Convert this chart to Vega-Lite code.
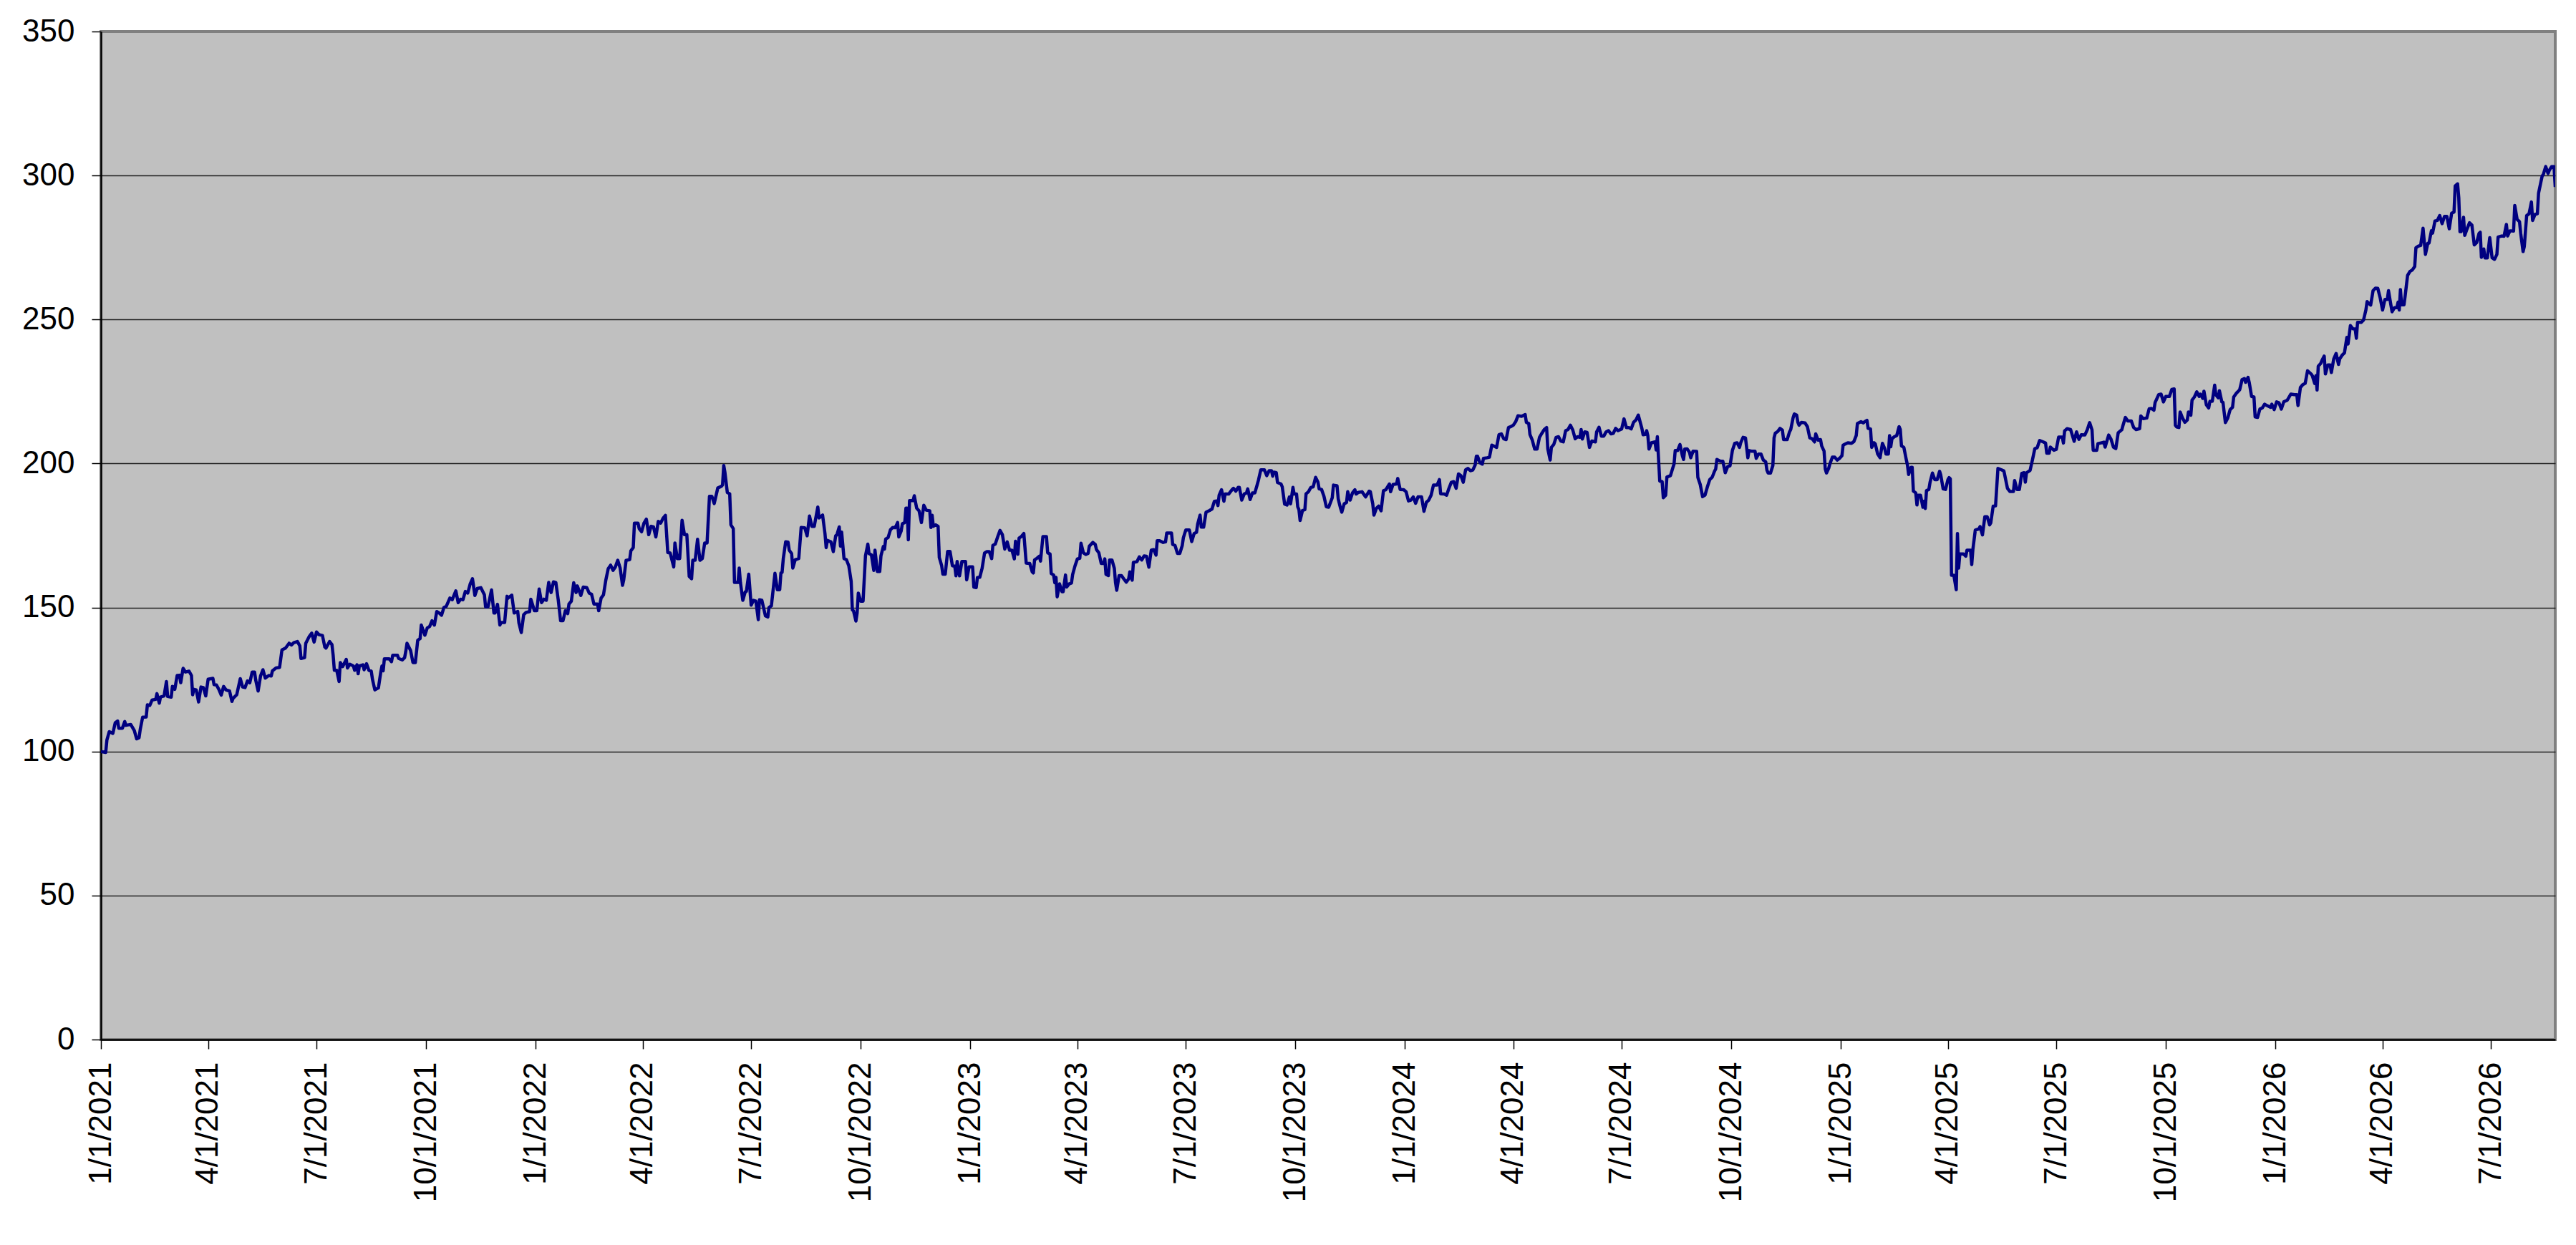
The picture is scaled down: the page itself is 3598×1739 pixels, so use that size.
{
  "$schema": "https://vega.github.io/schema/vega-lite/v6.json",
  "description": "Daily index level, 1/1/2021 to 8/2026, line on grey plot area.",
  "autosize": {"type": "none"},
  "width": 3428,
  "height": 1408,
  "padding": {"left": 141, "top": 44, "right": 29, "bottom": 287},
  "background": "#ffffff",
  "config": {
    "view": {"fill": "#C0C0C0", "stroke": "#808080", "strokeWidth": 4},
    "font": "Liberation Sans"
  },
  "data": {
    "values": [
      {"date":"2021-01-01","value":100.0},{"date":"2021-01-05","value":99.7},{"date":"2021-01-06","value":104.0},{"date":"2021-01-08","value":106.9},{"date":"2021-01-11","value":106.3},{"date":"2021-01-13","value":110.0},{"date":"2021-01-15","value":110.6},{"date":"2021-01-16","value":108.1},{"date":"2021-01-19","value":108.1},{"date":"2021-01-21","value":110.4},{"date":"2021-01-22","value":109.1},{"date":"2021-01-26","value":109.4},{"date":"2021-01-29","value":107.3},{"date":"2021-01-31","value":104.4},
      {"date":"2021-02-02","value":104.8},{"date":"2021-02-03","value":107.7},{"date":"2021-02-05","value":111.9},{"date":"2021-02-08","value":112.0},{"date":"2021-02-09","value":116.2},{"date":"2021-02-11","value":116.0},{"date":"2021-02-13","value":117.9},{"date":"2021-02-16","value":118.1},{"date":"2021-02-17","value":120.1},{"date":"2021-02-19","value":116.8},{"date":"2021-02-20","value":118.9},{"date":"2021-02-23","value":119.3},{"date":"2021-02-25","value":124.3},{"date":"2021-02-26","value":119.1},
      {"date":"2021-03-01","value":118.9},{"date":"2021-03-02","value":122.6},{"date":"2021-03-04","value":121.6},{"date":"2021-03-06","value":126.4},{"date":"2021-03-08","value":126.5},{"date":"2021-03-09","value":123.9},{"date":"2021-03-11","value":128.9},{"date":"2021-03-13","value":127.6},{"date":"2021-03-16","value":127.9},{"date":"2021-03-18","value":126.4},{"date":"2021-03-19","value":119.7},{"date":"2021-03-20","value":121.6},{"date":"2021-03-22","value":121.4},{"date":"2021-03-24","value":117.2},{"date":"2021-03-26","value":122.4},{"date":"2021-03-28","value":122.2},{"date":"2021-03-30","value":119.3},
      {"date":"2021-04-01","value":125.1},{"date":"2021-04-05","value":125.4},{"date":"2021-04-06","value":123.2},{"date":"2021-04-08","value":123.1},{"date":"2021-04-10","value":121.6},{"date":"2021-04-12","value":119.6},{"date":"2021-04-14","value":122.6},{"date":"2021-04-16","value":121.4},{"date":"2021-04-19","value":121.0},{"date":"2021-04-21","value":117.4},{"date":"2021-04-22","value":118.5},{"date":"2021-04-25","value":119.7},{"date":"2021-04-28","value":125.3},{"date":"2021-04-30","value":122.4},
      {"date":"2021-05-02","value":122.2},{"date":"2021-05-04","value":124.5},{"date":"2021-05-06","value":123.9},{"date":"2021-05-08","value":127.6},{"date":"2021-05-10","value":127.6},{"date":"2021-05-11","value":124.7},{"date":"2021-05-13","value":121.0},{"date":"2021-05-15","value":126.2},{"date":"2021-05-17","value":128.4},{"date":"2021-05-19","value":125.5},{"date":"2021-05-22","value":126.4},{"date":"2021-05-24","value":126.2},{"date":"2021-05-25","value":128.0},{"date":"2021-05-28","value":129.0},{"date":"2021-05-31","value":129.2},
      {"date":"2021-06-02","value":135.3},{"date":"2021-06-05","value":135.9},{"date":"2021-06-08","value":137.6},{"date":"2021-06-10","value":137.0},{"date":"2021-06-12","value":137.8},{"date":"2021-06-15","value":138.2},{"date":"2021-06-17","value":136.7},{"date":"2021-06-18","value":132.3},{"date":"2021-06-21","value":132.6},{"date":"2021-06-22","value":137.6},{"date":"2021-06-25","value":140.0},{"date":"2021-06-27","value":141.1},{"date":"2021-06-29","value":138.0},
      {"date":"2021-07-01","value":141.5},{"date":"2021-07-03","value":140.6},{"date":"2021-07-06","value":140.3},{"date":"2021-07-08","value":136.3},{"date":"2021-07-09","value":135.9},{"date":"2021-07-12","value":138.2},{"date":"2021-07-14","value":137.1},{"date":"2021-07-15","value":133.4},{"date":"2021-07-16","value":128.2},{"date":"2021-07-18","value":128.2},{"date":"2021-07-20","value":124.3},{"date":"2021-07-21","value":130.9},{"date":"2021-07-23","value":129.5},{"date":"2021-07-26","value":132.0},{"date":"2021-07-27","value":129.0},{"date":"2021-07-29","value":130.3},
      {"date":"2021-08-01","value":129.7},{"date":"2021-08-02","value":128.2},{"date":"2021-08-04","value":130.1},{"date":"2021-08-05","value":127.0},{"date":"2021-08-06","value":129.7},{"date":"2021-08-09","value":130.1},{"date":"2021-08-10","value":128.4},{"date":"2021-08-12","value":130.5},{"date":"2021-08-14","value":128.2},{"date":"2021-08-16","value":127.9},{"date":"2021-08-17","value":125.1},{"date":"2021-08-19","value":121.4},{"date":"2021-08-22","value":122.1},{"date":"2021-08-24","value":127.6},{"date":"2021-08-25","value":129.7},{"date":"2021-08-26","value":128.0},{"date":"2021-08-27","value":132.2},{"date":"2021-08-31","value":132.2},
      {"date":"2021-09-02","value":131.2},{"date":"2021-09-03","value":133.4},{"date":"2021-09-07","value":133.4},{"date":"2021-09-08","value":132.3},{"date":"2021-09-11","value":131.8},{"date":"2021-09-13","value":132.6},{"date":"2021-09-14","value":134.8},{"date":"2021-09-15","value":137.6},{"date":"2021-09-18","value":135.1},{"date":"2021-09-20","value":130.9},{"date":"2021-09-22","value":130.9},{"date":"2021-09-24","value":138.6},{"date":"2021-09-26","value":139.2},{"date":"2021-09-27","value":143.9},{"date":"2021-09-30","value":140.4},
      {"date":"2021-10-02","value":142.9},{"date":"2021-10-04","value":143.4},{"date":"2021-10-06","value":145.4},{"date":"2021-10-08","value":143.9},{"date":"2021-10-10","value":148.6},{"date":"2021-10-12","value":148.1},{"date":"2021-10-14","value":147.3},{"date":"2021-10-16","value":150.0},{"date":"2021-10-18","value":150.4},{"date":"2021-10-21","value":153.3},{"date":"2021-10-23","value":152.7},{"date":"2021-10-26","value":155.8},{"date":"2021-10-28","value":151.7},{"date":"2021-10-30","value":152.9},
      {"date":"2021-11-01","value":152.7},{"date":"2021-11-03","value":155.6},{"date":"2021-11-05","value":155.0},{"date":"2021-11-07","value":158.1},{"date":"2021-11-09","value":160.0},{"date":"2021-11-11","value":154.2},{"date":"2021-11-13","value":156.6},{"date":"2021-11-16","value":156.9},{"date":"2021-11-19","value":154.4},{"date":"2021-11-20","value":150.2},{"date":"2021-11-22","value":150.2},{"date":"2021-11-25","value":156.1},{"date":"2021-11-27","value":148.1},{"date":"2021-11-28","value":148.1},{"date":"2021-11-30","value":151.1},
      {"date":"2021-12-02","value":143.9},{"date":"2021-12-03","value":144.8},{"date":"2021-12-06","value":144.8},{"date":"2021-12-08","value":153.9},{"date":"2021-12-09","value":153.3},{"date":"2021-12-12","value":154.3},{"date":"2021-12-14","value":148.1},{"date":"2021-12-17","value":148.6},{"date":"2021-12-18","value":144.6},{"date":"2021-12-20","value":141.3},{"date":"2021-12-22","value":147.5},{"date":"2021-12-24","value":148.3},{"date":"2021-12-27","value":148.6},{"date":"2021-12-28","value":152.9},{"date":"2021-12-31","value":148.9},
      {"date":"2022-01-02","value":148.9},{"date":"2022-01-04","value":156.4},{"date":"2022-01-06","value":151.7},{"date":"2022-01-08","value":152.9},{"date":"2022-01-10","value":152.5},{"date":"2022-01-12","value":158.7},{"date":"2022-01-14","value":155.2},{"date":"2022-01-16","value":158.9},{"date":"2022-01-18","value":158.7},{"date":"2022-01-20","value":152.7},{"date":"2022-01-22","value":145.4},{"date":"2022-01-24","value":145.4},{"date":"2022-01-26","value":148.9},{"date":"2022-01-28","value":147.9},{"date":"2022-01-29","value":151.2},{"date":"2022-01-31","value":152.2},
      {"date":"2022-02-02","value":158.6},{"date":"2022-02-04","value":155.2},{"date":"2022-02-05","value":157.5},{"date":"2022-02-08","value":154.2},{"date":"2022-02-10","value":157.1},{"date":"2022-02-13","value":156.9},{"date":"2022-02-15","value":155.0},{"date":"2022-02-17","value":154.6},{"date":"2022-02-19","value":151.2},{"date":"2022-02-22","value":151.2},{"date":"2022-02-23","value":148.9},{"date":"2022-02-25","value":153.3},{"date":"2022-02-27","value":154.4},
      {"date":"2022-03-01","value":159.6},{"date":"2022-03-03","value":163.5},{"date":"2022-03-05","value":164.7},{"date":"2022-03-07","value":162.9},{"date":"2022-03-09","value":164.1},{"date":"2022-03-11","value":166.4},{"date":"2022-03-13","value":163.7},{"date":"2022-03-15","value":157.7},{"date":"2022-03-16","value":159.6},{"date":"2022-03-18","value":166.4},{"date":"2022-03-21","value":166.6},{"date":"2022-03-22","value":169.7},{"date":"2022-03-24","value":170.8},{"date":"2022-03-25","value":179.3},{"date":"2022-03-28","value":179.3},{"date":"2022-03-29","value":177.4},{"date":"2022-03-31","value":176.3},
      {"date":"2022-04-02","value":179.3},{"date":"2022-04-04","value":180.7},{"date":"2022-04-06","value":175.3},{"date":"2022-04-08","value":178.2},{"date":"2022-04-10","value":178.0},{"date":"2022-04-12","value":174.5},{"date":"2022-04-14","value":179.9},{"date":"2022-04-16","value":179.3},{"date":"2022-04-18","value":181.0},{"date":"2022-04-20","value":182.0},{"date":"2022-04-22","value":169.1},{"date":"2022-04-24","value":168.9},{"date":"2022-04-27","value":164.1},{"date":"2022-04-28","value":172.4},{"date":"2022-04-30","value":167.0},
      {"date":"2022-05-02","value":167.0},{"date":"2022-05-04","value":180.3},{"date":"2022-05-06","value":175.3},{"date":"2022-05-08","value":175.3},{"date":"2022-05-10","value":160.8},{"date":"2022-05-12","value":160.0},{"date":"2022-05-13","value":166.4},{"date":"2022-05-15","value":166.4},{"date":"2022-05-17","value":173.7},{"date":"2022-05-19","value":166.4},{"date":"2022-05-21","value":167.0},{"date":"2022-05-23","value":172.4},{"date":"2022-05-25","value":172.4},{"date":"2022-05-27","value":188.6},{"date":"2022-05-29","value":188.6},{"date":"2022-05-31","value":186.1},
      {"date":"2022-06-03","value":191.5},{"date":"2022-06-06","value":192.1},{"date":"2022-06-07","value":192.6},{"date":"2022-06-08","value":199.3},{"date":"2022-06-09","value":196.9},{"date":"2022-06-11","value":189.9},{"date":"2022-06-13","value":189.5},{"date":"2022-06-14","value":178.7},{"date":"2022-06-16","value":177.4},{"date":"2022-06-17","value":158.7},{"date":"2022-06-20","value":158.7},{"date":"2022-06-21","value":163.7},{"date":"2022-06-22","value":158.7},{"date":"2022-06-24","value":152.5},{"date":"2022-06-26","value":155.4},{"date":"2022-06-27","value":155.6},{"date":"2022-06-29","value":161.6},
      {"date":"2022-07-01","value":150.8},{"date":"2022-07-03","value":152.5},{"date":"2022-07-05","value":152.2},{"date":"2022-07-07","value":145.8},{"date":"2022-07-08","value":152.7},{"date":"2022-07-10","value":152.5},{"date":"2022-07-13","value":147.1},{"date":"2022-07-15","value":146.7},{"date":"2022-07-16","value":150.0},{"date":"2022-07-18","value":150.6},{"date":"2022-07-21","value":161.9},{"date":"2022-07-23","value":156.2},{"date":"2022-07-25","value":156.2},{"date":"2022-07-26","value":162.0},{"date":"2022-07-27","value":162.2},{"date":"2022-07-28","value":167.0},{"date":"2022-07-30","value":172.8},
      {"date":"2022-08-01","value":172.7},{"date":"2022-08-02","value":169.9},{"date":"2022-08-04","value":168.7},{"date":"2022-08-05","value":163.7},{"date":"2022-08-07","value":166.6},{"date":"2022-08-10","value":167.0},{"date":"2022-08-12","value":177.8},{"date":"2022-08-15","value":177.7},{"date":"2022-08-17","value":174.9},{"date":"2022-08-19","value":181.8},{"date":"2022-08-21","value":178.2},{"date":"2022-08-23","value":178.2},{"date":"2022-08-26","value":184.9},{"date":"2022-08-27","value":181.1},{"date":"2022-08-30","value":182.1},
      {"date":"2022-09-01","value":175.7},{"date":"2022-09-02","value":170.8},{"date":"2022-09-03","value":173.3},{"date":"2022-09-06","value":172.8},{"date":"2022-09-08","value":169.4},{"date":"2022-09-10","value":174.9},{"date":"2022-09-11","value":175.2},{"date":"2022-09-13","value":178.0},{"date":"2022-09-14","value":171.3},{"date":"2022-09-15","value":176.2},{"date":"2022-09-17","value":167.0},{"date":"2022-09-19","value":166.6},{"date":"2022-09-21","value":164.5},{"date":"2022-09-23","value":159.1},{"date":"2022-09-24","value":149.2},{"date":"2022-09-25","value":148.8},{"date":"2022-09-27","value":145.3},{"date":"2022-09-28","value":148.1},{"date":"2022-09-29","value":155.0},
      {"date":"2022-10-01","value":152.2},{"date":"2022-10-03","value":152.2},{"date":"2022-10-05","value":167.9},{"date":"2022-10-07","value":172.0},{"date":"2022-10-08","value":168.7},{"date":"2022-10-10","value":168.3},{"date":"2022-10-12","value":162.9},{"date":"2022-10-13","value":169.9},{"date":"2022-10-15","value":162.5},{"date":"2022-10-17","value":162.5},{"date":"2022-10-18","value":167.9},{"date":"2022-10-20","value":171.2},{"date":"2022-10-21","value":170.3},{"date":"2022-10-22","value":173.8},{"date":"2022-10-24","value":174.3},{"date":"2022-10-26","value":177.0},{"date":"2022-10-28","value":177.8},{"date":"2022-10-30","value":177.7},
      {"date":"2022-11-01","value":179.5},{"date":"2022-11-02","value":174.5},{"date":"2022-11-04","value":176.6},{"date":"2022-11-05","value":179.1},{"date":"2022-11-07","value":179.5},{"date":"2022-11-08","value":184.5},{"date":"2022-11-09","value":184.5},{"date":"2022-11-10","value":173.5},{"date":"2022-11-11","value":187.1},{"date":"2022-11-14","value":187.1},{"date":"2022-11-15","value":188.8},{"date":"2022-11-17","value":184.5},{"date":"2022-11-19","value":183.6},{"date":"2022-11-21","value":179.5},{"date":"2022-11-23","value":185.5},{"date":"2022-11-25","value":183.8},{"date":"2022-11-28","value":183.6},{"date":"2022-11-29","value":177.8},{"date":"2022-11-30","value":182.0},
      {"date":"2022-12-01","value":178.2},{"date":"2022-12-03","value":178.7},{"date":"2022-12-05","value":178.2},{"date":"2022-12-06","value":167.4},{"date":"2022-12-08","value":164.5},{"date":"2022-12-09","value":161.6},{"date":"2022-12-11","value":161.6},{"date":"2022-12-13","value":169.5},{"date":"2022-12-15","value":169.5},{"date":"2022-12-17","value":164.5},{"date":"2022-12-19","value":164.4},{"date":"2022-12-20","value":161.0},{"date":"2022-12-21","value":166.0},{"date":"2022-12-23","value":161.0},{"date":"2022-12-25","value":166.0},{"date":"2022-12-28","value":166.0},{"date":"2022-12-29","value":159.6},{"date":"2022-12-31","value":164.1},
      {"date":"2023-01-03","value":164.1},{"date":"2023-01-04","value":157.1},{"date":"2023-01-06","value":156.9},{"date":"2023-01-07","value":160.4},{"date":"2023-01-09","value":160.5},{"date":"2023-01-11","value":163.7},{"date":"2023-01-13","value":168.9},{"date":"2023-01-15","value":169.4},{"date":"2023-01-17","value":169.4},{"date":"2023-01-19","value":167.0},{"date":"2023-01-20","value":171.6},{"date":"2023-01-22","value":172.0},{"date":"2023-01-24","value":174.5},{"date":"2023-01-26","value":176.8},{"date":"2023-01-28","value":175.3},{"date":"2023-01-30","value":170.3},
      {"date":"2023-02-01","value":172.8},{"date":"2023-02-03","value":169.9},{"date":"2023-02-05","value":169.9},{"date":"2023-02-07","value":166.9},{"date":"2023-02-08","value":173.0},{"date":"2023-02-10","value":168.5},{"date":"2023-02-11","value":174.1},{"date":"2023-02-13","value":174.7},{"date":"2023-02-15","value":175.7},{"date":"2023-02-17","value":165.4},{"date":"2023-02-20","value":165.3},{"date":"2023-02-22","value":162.4},{"date":"2023-02-23","value":162.0},{"date":"2023-02-24","value":166.5},{"date":"2023-02-26","value":167.1},{"date":"2023-02-28","value":167.8},
      {"date":"2023-03-01","value":166.1},{"date":"2023-03-03","value":174.6},{"date":"2023-03-06","value":174.6},{"date":"2023-03-07","value":169.0},{"date":"2023-03-09","value":168.6},{"date":"2023-03-10","value":161.8},{"date":"2023-03-12","value":161.3},{"date":"2023-03-13","value":158.6},{"date":"2023-03-14","value":160.5},{"date":"2023-03-15","value":153.7},{"date":"2023-03-17","value":158.2},{"date":"2023-03-19","value":155.5},{"date":"2023-03-20","value":155.5},{"date":"2023-03-22","value":161.3},{"date":"2023-03-23","value":157.1},{"date":"2023-03-25","value":158.2},{"date":"2023-03-27","value":158.5},{"date":"2023-03-28","value":161.5},{"date":"2023-03-30","value":164.5},
      {"date":"2023-04-01","value":166.9},{"date":"2023-04-03","value":167.1},{"date":"2023-04-04","value":172.3},{"date":"2023-04-06","value":169.0},{"date":"2023-04-08","value":168.4},{"date":"2023-04-10","value":168.8},{"date":"2023-04-11","value":171.3},{"date":"2023-04-14","value":172.6},{"date":"2023-04-16","value":171.9},{"date":"2023-04-17","value":170.1},{"date":"2023-04-19","value":169.0},{"date":"2023-04-21","value":165.3},{"date":"2023-04-23","value":165.3},{"date":"2023-04-24","value":166.9},{"date":"2023-04-25","value":161.5},{"date":"2023-04-27","value":161.1},{"date":"2023-04-28","value":166.5},{"date":"2023-04-30","value":166.5},
      {"date":"2023-05-02","value":163.6},{"date":"2023-05-03","value":158.6},{"date":"2023-05-04","value":156.0},{"date":"2023-05-06","value":161.1},{"date":"2023-05-08","value":161.1},{"date":"2023-05-10","value":159.9},{"date":"2023-05-12","value":158.8},{"date":"2023-05-14","value":159.9},{"date":"2023-05-15","value":162.4},{"date":"2023-05-17","value":159.5},{"date":"2023-05-18","value":165.7},{"date":"2023-05-21","value":165.9},{"date":"2023-05-23","value":167.6},{"date":"2023-05-25","value":166.5},{"date":"2023-05-27","value":167.9},{"date":"2023-05-29","value":167.8},{"date":"2023-05-31","value":164.0},
      {"date":"2023-06-02","value":169.9},{"date":"2023-06-04","value":170.1},{"date":"2023-06-06","value":168.2},{"date":"2023-06-07","value":173.2},{"date":"2023-06-09","value":173.2},{"date":"2023-06-12","value":172.6},{"date":"2023-06-14","value":172.8},{"date":"2023-06-15","value":175.9},{"date":"2023-06-19","value":175.9},{"date":"2023-06-20","value":171.9},{"date":"2023-06-22","value":171.5},{"date":"2023-06-24","value":168.8},{"date":"2023-06-26","value":168.8},{"date":"2023-06-28","value":171.5},{"date":"2023-06-29","value":174.3},
      {"date":"2023-07-01","value":176.9},{"date":"2023-07-04","value":176.9},{"date":"2023-07-06","value":172.9},{"date":"2023-07-08","value":175.7},{"date":"2023-07-10","value":176.1},{"date":"2023-07-11","value":179.0},{"date":"2023-07-13","value":182.1},{"date":"2023-07-14","value":177.9},{"date":"2023-07-16","value":177.9},{"date":"2023-07-18","value":183.1},{"date":"2023-07-21","value":183.7},{"date":"2023-07-23","value":184.2},{"date":"2023-07-25","value":186.9},{"date":"2023-07-27","value":187.0},{"date":"2023-07-28","value":185.4},{"date":"2023-07-29","value":189.0},{"date":"2023-07-31","value":190.9},
      {"date":"2023-08-02","value":186.9},{"date":"2023-08-03","value":189.4},{"date":"2023-08-06","value":189.4},{"date":"2023-08-09","value":191.0},{"date":"2023-08-10","value":191.4},{"date":"2023-08-12","value":190.4},{"date":"2023-08-14","value":191.7},{"date":"2023-08-15","value":191.7},{"date":"2023-08-17","value":187.3},{"date":"2023-08-19","value":189.4},{"date":"2023-08-21","value":189.8},{"date":"2023-08-22","value":191.2},{"date":"2023-08-24","value":187.5},{"date":"2023-08-26","value":189.8},{"date":"2023-08-28","value":189.8},{"date":"2023-08-30","value":192.7},{"date":"2023-08-31","value":194.2},
      {"date":"2023-09-02","value":197.8},{"date":"2023-09-05","value":197.8},{"date":"2023-09-07","value":195.8},{"date":"2023-09-09","value":197.5},{"date":"2023-09-11","value":197.5},{"date":"2023-09-12","value":195.6},{"date":"2023-09-13","value":197.0},{"date":"2023-09-15","value":196.8},{"date":"2023-09-16","value":193.4},{"date":"2023-09-19","value":192.9},{"date":"2023-09-20","value":191.9},{"date":"2023-09-22","value":185.9},{"date":"2023-09-24","value":185.6},{"date":"2023-09-26","value":188.4},{"date":"2023-09-27","value":186.0},{"date":"2023-09-29","value":191.7},{"date":"2023-09-30","value":189.4},
      {"date":"2023-10-02","value":189.4},{"date":"2023-10-03","value":185.0},{"date":"2023-10-04","value":184.0},{"date":"2023-10-05","value":180.2},{"date":"2023-10-07","value":183.7},{"date":"2023-10-09","value":184.0},{"date":"2023-10-10","value":189.5},{"date":"2023-10-12","value":190.2},{"date":"2023-10-14","value":191.7},{"date":"2023-10-16","value":191.9},{"date":"2023-10-18","value":195.2},{"date":"2023-10-20","value":193.5},{"date":"2023-10-21","value":191.2},{"date":"2023-10-23","value":191.0},{"date":"2023-10-25","value":188.7},{"date":"2023-10-27","value":185.0},{"date":"2023-10-29","value":184.8},
      {"date":"2023-11-01","value":188.1},{"date":"2023-11-02","value":192.5},{"date":"2023-11-05","value":192.3},{"date":"2023-11-06","value":187.7},{"date":"2023-11-08","value":184.4},{"date":"2023-11-09","value":183.1},{"date":"2023-11-11","value":186.0},{"date":"2023-11-13","value":186.5},{"date":"2023-11-14","value":190.2},{"date":"2023-11-16","value":187.3},{"date":"2023-11-18","value":189.8},{"date":"2023-11-20","value":190.9},{"date":"2023-11-21","value":189.4},{"date":"2023-11-23","value":190.0},{"date":"2023-11-26","value":190.2},{"date":"2023-11-29","value":188.4},
      {"date":"2023-12-02","value":190.4},{"date":"2023-12-03","value":190.2},{"date":"2023-12-05","value":186.0},{"date":"2023-12-06","value":182.1},{"date":"2023-12-08","value":184.4},{"date":"2023-12-10","value":185.2},{"date":"2023-12-12","value":183.6},{"date":"2023-12-14","value":190.6},{"date":"2023-12-16","value":190.9},{"date":"2023-12-19","value":192.9},{"date":"2023-12-20","value":190.2},{"date":"2023-12-22","value":192.7},{"date":"2023-12-25","value":192.9},{"date":"2023-12-26","value":194.8},{"date":"2023-12-28","value":191.0},{"date":"2023-12-31","value":190.9},
      {"date":"2024-01-02","value":190.2},{"date":"2024-01-04","value":187.0},{"date":"2024-01-06","value":187.3},{"date":"2024-01-08","value":188.4},{"date":"2024-01-10","value":186.2},{"date":"2024-01-12","value":188.4},{"date":"2024-01-15","value":188.4},{"date":"2024-01-17","value":183.4},{"date":"2024-01-19","value":186.5},{"date":"2024-01-21","value":187.3},{"date":"2024-01-23","value":189.0},{"date":"2024-01-25","value":192.5},{"date":"2024-01-28","value":192.5},{"date":"2024-01-30","value":194.4},{"date":"2024-01-31","value":189.5},
      {"date":"2024-02-03","value":189.4},{"date":"2024-02-05","value":189.0},{"date":"2024-02-07","value":191.4},{"date":"2024-02-09","value":193.5},{"date":"2024-02-11","value":193.7},{"date":"2024-02-13","value":191.4},{"date":"2024-02-15","value":196.4},{"date":"2024-02-17","value":195.8},{"date":"2024-02-19","value":193.5},{"date":"2024-02-21","value":197.8},{"date":"2024-02-23","value":198.3},{"date":"2024-02-25","value":197.5},{"date":"2024-02-27","value":197.7},{"date":"2024-02-29","value":199.5},
      {"date":"2024-03-01","value":202.5},{"date":"2024-03-02","value":202.5},{"date":"2024-03-04","value":200.3},{"date":"2024-03-06","value":199.8},{"date":"2024-03-07","value":201.8},{"date":"2024-03-10","value":202.0},{"date":"2024-03-12","value":202.2},{"date":"2024-03-14","value":206.4},{"date":"2024-03-16","value":206.0},{"date":"2024-03-18","value":205.6},{"date":"2024-03-20","value":210.0},{"date":"2024-03-22","value":210.3},{"date":"2024-03-24","value":208.6},{"date":"2024-03-26","value":208.3},{"date":"2024-03-28","value":212.5},{"date":"2024-03-30","value":212.8},
      {"date":"2024-04-01","value":213.3},{"date":"2024-04-03","value":214.5},{"date":"2024-04-05","value":216.6},{"date":"2024-04-08","value":216.4},{"date":"2024-04-11","value":217.0},{"date":"2024-04-12","value":214.3},{"date":"2024-04-14","value":213.9},{"date":"2024-04-15","value":210.1},{"date":"2024-04-17","value":208.1},{"date":"2024-04-19","value":205.0},{"date":"2024-04-21","value":205.0},{"date":"2024-04-23","value":209.1},{"date":"2024-04-25","value":210.5},{"date":"2024-04-27","value":211.8},{"date":"2024-04-29","value":212.5},{"date":"2024-04-30","value":205.1},
      {"date":"2024-05-02","value":201.2},{"date":"2024-05-03","value":205.6},{"date":"2024-05-05","value":206.6},{"date":"2024-05-07","value":209.1},{"date":"2024-05-09","value":209.3},{"date":"2024-05-11","value":207.8},{"date":"2024-05-13","value":207.5},{"date":"2024-05-15","value":211.4},{"date":"2024-05-17","value":211.8},{"date":"2024-05-19","value":213.3},{"date":"2024-05-21","value":211.6},{"date":"2024-05-23","value":208.6},{"date":"2024-05-25","value":209.3},{"date":"2024-05-27","value":209.1},{"date":"2024-05-28","value":211.8},{"date":"2024-05-29","value":208.5},{"date":"2024-05-31","value":211.0},
      {"date":"2024-06-02","value":210.8},{"date":"2024-06-04","value":205.6},{"date":"2024-06-06","value":207.8},{"date":"2024-06-09","value":207.5},{"date":"2024-06-10","value":211.0},{"date":"2024-06-12","value":212.6},{"date":"2024-06-14","value":209.5},{"date":"2024-06-16","value":209.5},{"date":"2024-06-18","value":211.0},{"date":"2024-06-20","value":211.4},{"date":"2024-06-22","value":210.3},{"date":"2024-06-24","value":210.5},{"date":"2024-06-26","value":212.2},{"date":"2024-06-28","value":211.4},
      {"date":"2024-07-01","value":212.0},{"date":"2024-07-03","value":215.5},{"date":"2024-07-05","value":212.5},{"date":"2024-07-07","value":212.5},{"date":"2024-07-09","value":212.0},{"date":"2024-07-11","value":214.3},{"date":"2024-07-13","value":215.1},{"date":"2024-07-15","value":216.8},{"date":"2024-07-18","value":212.2},{"date":"2024-07-19","value":210.0},{"date":"2024-07-21","value":210.1},{"date":"2024-07-22","value":211.4},{"date":"2024-07-23","value":209.7},{"date":"2024-07-24","value":205.0},{"date":"2024-07-26","value":207.2},{"date":"2024-07-29","value":207.5},{"date":"2024-07-30","value":204.7},{"date":"2024-07-31","value":209.3},
      {"date":"2024-08-02","value":193.9},{"date":"2024-08-04","value":193.7},{"date":"2024-08-05","value":188.1},{"date":"2024-08-07","value":189.0},{"date":"2024-08-08","value":195.3},{"date":"2024-08-11","value":195.8},{"date":"2024-08-13","value":198.5},{"date":"2024-08-14","value":199.8},{"date":"2024-08-15","value":204.5},{"date":"2024-08-17","value":204.5},{"date":"2024-08-19","value":206.6},{"date":"2024-08-21","value":202.7},{"date":"2024-08-22","value":201.4},{"date":"2024-08-23","value":205.0},{"date":"2024-08-25","value":205.1},{"date":"2024-08-27","value":203.9},{"date":"2024-08-28","value":202.0},{"date":"2024-08-30","value":204.3},
      {"date":"2024-09-02","value":204.2},{"date":"2024-09-03","value":195.2},{"date":"2024-09-05","value":192.7},{"date":"2024-09-07","value":188.5},{"date":"2024-09-09","value":189.0},{"date":"2024-09-11","value":191.9},{"date":"2024-09-13","value":194.4},{"date":"2024-09-15","value":195.2},{"date":"2024-09-17","value":197.3},{"date":"2024-09-18","value":198.1},{"date":"2024-09-19","value":201.4},{"date":"2024-09-22","value":200.8},{"date":"2024-09-24","value":200.8},{"date":"2024-09-26","value":196.8},{"date":"2024-09-28","value":198.9},{"date":"2024-09-30","value":199.2},
      {"date":"2024-10-02","value":204.5},{"date":"2024-10-04","value":207.0},{"date":"2024-10-06","value":207.2},{"date":"2024-10-08","value":205.6},{"date":"2024-10-09","value":207.2},{"date":"2024-10-11","value":209.1},{"date":"2024-10-13","value":208.9},{"date":"2024-10-15","value":202.0},{"date":"2024-10-16","value":204.5},{"date":"2024-10-18","value":204.3},{"date":"2024-10-21","value":204.3},{"date":"2024-10-22","value":201.8},{"date":"2024-10-24","value":203.3},{"date":"2024-10-26","value":203.3},{"date":"2024-10-28","value":201.2},{"date":"2024-10-30","value":200.6},{"date":"2024-10-31","value":197.7},
      {"date":"2024-11-01","value":196.7},{"date":"2024-11-03","value":196.7},{"date":"2024-11-05","value":199.3},{"date":"2024-11-06","value":208.9},{"date":"2024-11-07","value":210.5},{"date":"2024-11-09","value":211.1},{"date":"2024-11-11","value":212.2},{"date":"2024-11-13","value":211.6},{"date":"2024-11-14","value":208.3},{"date":"2024-11-17","value":208.3},{"date":"2024-11-19","value":211.0},{"date":"2024-11-20","value":211.8},{"date":"2024-11-22","value":215.9},{"date":"2024-11-23","value":217.2},{"date":"2024-11-25","value":216.8},{"date":"2024-11-26","value":214.3},{"date":"2024-11-27","value":213.3},{"date":"2024-11-29","value":214.3},
      {"date":"2024-12-02","value":214.1},{"date":"2024-12-04","value":212.8},{"date":"2024-12-06","value":208.9},{"date":"2024-12-08","value":208.6},{"date":"2024-12-10","value":207.5},{"date":"2024-12-11","value":210.3},{"date":"2024-12-13","value":208.1},{"date":"2024-12-15","value":208.3},{"date":"2024-12-16","value":206.1},{"date":"2024-12-18","value":204.3},{"date":"2024-12-19","value":198.1},{"date":"2024-12-20","value":196.7},{"date":"2024-12-22","value":198.5},{"date":"2024-12-23","value":200.0},{"date":"2024-12-25","value":202.2},{"date":"2024-12-27","value":202.2},{"date":"2024-12-29","value":201.2},{"date":"2024-12-31","value":201.8},
      {"date":"2025-01-02","value":202.7},{"date":"2025-01-03","value":206.4},{"date":"2025-01-05","value":206.8},{"date":"2025-01-07","value":207.2},{"date":"2025-01-10","value":207.0},{"date":"2025-01-12","value":207.6},{"date":"2025-01-14","value":209.7},{"date":"2025-01-15","value":213.9},{"date":"2025-01-18","value":214.5},{"date":"2025-01-20","value":214.1},{"date":"2025-01-21","value":214.5},{"date":"2025-01-23","value":215.0},{"date":"2025-01-24","value":212.2},{"date":"2025-01-26","value":212.0},{"date":"2025-01-27","value":205.6},{"date":"2025-01-29","value":207.2},{"date":"2025-01-30","value":206.8},
      {"date":"2025-02-01","value":203.3},{"date":"2025-02-03","value":202.0},{"date":"2025-02-04","value":204.5},{"date":"2025-02-05","value":207.0},{"date":"2025-02-07","value":205.1},{"date":"2025-02-08","value":203.3},{"date":"2025-02-10","value":203.3},{"date":"2025-02-11","value":209.7},{"date":"2025-02-12","value":205.8},{"date":"2025-02-13","value":208.6},{"date":"2025-02-15","value":209.3},{"date":"2025-02-17","value":209.7},{"date":"2025-02-19","value":212.8},{"date":"2025-02-20","value":211.8},{"date":"2025-02-21","value":206.1},{"date":"2025-02-23","value":205.6},{"date":"2025-02-25","value":201.4},{"date":"2025-02-26","value":199.5},{"date":"2025-02-27","value":196.2},
      {"date":"2025-03-01","value":198.7},{"date":"2025-03-02","value":198.7},{"date":"2025-03-03","value":190.4},{"date":"2025-03-05","value":189.8},{"date":"2025-03-06","value":185.6},{"date":"2025-03-07","value":189.0},{"date":"2025-03-09","value":189.0},{"date":"2025-03-11","value":184.8},{"date":"2025-03-12","value":186.9},{"date":"2025-03-13","value":184.4},{"date":"2025-03-14","value":190.6},{"date":"2025-03-16","value":191.0},{"date":"2025-03-17","value":193.5},{"date":"2025-03-19","value":196.7},{"date":"2025-03-21","value":194.4},{"date":"2025-03-23","value":194.4},{"date":"2025-03-25","value":197.3},{"date":"2025-03-26","value":196.0},{"date":"2025-03-28","value":191.2},{"date":"2025-03-30","value":191.0},
      {"date":"2025-04-01","value":194.4},{"date":"2025-04-02","value":195.1},{"date":"2025-04-03","value":194.7},{"date":"2025-04-04","value":161.2},{"date":"2025-04-06","value":161.2},{"date":"2025-04-08","value":156.2},{"date":"2025-04-09","value":175.7},{"date":"2025-04-10","value":163.7},{"date":"2025-04-11","value":168.6},{"date":"2025-04-14","value":168.6},{"date":"2025-04-16","value":167.8},{"date":"2025-04-17","value":169.9},{"date":"2025-04-20","value":169.9},{"date":"2025-04-21","value":164.9},{"date":"2025-04-22","value":170.3},{"date":"2025-04-24","value":176.9},{"date":"2025-04-27","value":177.3},{"date":"2025-04-28","value":178.1},{"date":"2025-04-30","value":175.2},
      {"date":"2025-05-02","value":181.5},{"date":"2025-05-04","value":181.5},{"date":"2025-05-06","value":178.7},{"date":"2025-05-07","value":179.4},{"date":"2025-05-09","value":185.2},{"date":"2025-05-11","value":185.3},{"date":"2025-05-13","value":198.3},{"date":"2025-05-16","value":197.8},{"date":"2025-05-18","value":197.4},{"date":"2025-05-21","value":191.4},{"date":"2025-05-23","value":190.3},{"date":"2025-05-26","value":190.3},{"date":"2025-05-27","value":194.1},{"date":"2025-05-29","value":191.0},{"date":"2025-05-31","value":191.0},
      {"date":"2025-06-02","value":196.6},{"date":"2025-06-04","value":196.8},{"date":"2025-06-05","value":193.5},{"date":"2025-06-06","value":196.8},{"date":"2025-06-09","value":197.6},{"date":"2025-06-11","value":201.3},{"date":"2025-06-13","value":205.2},{"date":"2025-06-15","value":205.5},{"date":"2025-06-17","value":208.0},{"date":"2025-06-20","value":207.5},{"date":"2025-06-22","value":207.1},{"date":"2025-06-23","value":203.6},{"date":"2025-06-25","value":203.6},{"date":"2025-06-26","value":205.7},{"date":"2025-06-29","value":204.6},
      {"date":"2025-07-01","value":204.9},{"date":"2025-07-03","value":209.2},{"date":"2025-07-06","value":209.2},{"date":"2025-07-07","value":207.1},{"date":"2025-07-08","value":211.3},{"date":"2025-07-10","value":212.1},{"date":"2025-07-13","value":211.8},{"date":"2025-07-16","value":207.7},{"date":"2025-07-18","value":211.0},{"date":"2025-07-20","value":208.4},{"date":"2025-07-22","value":210.0},{"date":"2025-07-25","value":209.9},{"date":"2025-07-27","value":211.7},{"date":"2025-07-29","value":214.2},{"date":"2025-07-31","value":211.7},
      {"date":"2025-08-01","value":204.6},{"date":"2025-08-04","value":204.6},{"date":"2025-08-05","value":206.9},{"date":"2025-08-07","value":207.1},{"date":"2025-08-10","value":207.4},{"date":"2025-08-11","value":205.7},{"date":"2025-08-14","value":209.9},{"date":"2025-08-16","value":208.4},{"date":"2025-08-18","value":205.7},{"date":"2025-08-20","value":205.2},{"date":"2025-08-22","value":210.7},{"date":"2025-08-25","value":211.7},{"date":"2025-08-26","value":213.2},{"date":"2025-08-28","value":216.0},{"date":"2025-08-30","value":214.8},
      {"date":"2025-09-02","value":214.8},{"date":"2025-09-04","value":212.5},{"date":"2025-09-06","value":211.8},{"date":"2025-09-09","value":212.1},{"date":"2025-09-10","value":216.5},{"date":"2025-09-12","value":215.6},{"date":"2025-09-15","value":215.8},{"date":"2025-09-17","value":219.0},{"date":"2025-09-19","value":219.1},{"date":"2025-09-21","value":218.5},{"date":"2025-09-22","value":221.2},{"date":"2025-09-25","value":223.9},{"date":"2025-09-27","value":224.1},{"date":"2025-09-29","value":221.4},
      {"date":"2025-10-01","value":223.3},{"date":"2025-10-04","value":223.3},{"date":"2025-10-06","value":225.7},{"date":"2025-10-08","value":225.9},{"date":"2025-10-09","value":213.3},{"date":"2025-10-10","value":212.7},{"date":"2025-10-12","value":212.5},{"date":"2025-10-13","value":217.9},{"date":"2025-10-15","value":215.8},{"date":"2025-10-17","value":214.3},{"date":"2025-10-19","value":215.1},{"date":"2025-10-20","value":217.9},{"date":"2025-10-22","value":216.8},{"date":"2025-10-23","value":222.0},{"date":"2025-10-25","value":223.1},{"date":"2025-10-27","value":224.9},{"date":"2025-10-29","value":223.3},{"date":"2025-10-30","value":224.1},
      {"date":"2025-11-01","value":222.6},{"date":"2025-11-02","value":225.1},{"date":"2025-11-04","value":220.4},{"date":"2025-11-06","value":219.3},{"date":"2025-11-07","value":221.6},{"date":"2025-11-09","value":221.6},{"date":"2025-11-11","value":227.2},{"date":"2025-11-12","value":223.9},{"date":"2025-11-14","value":222.8},{"date":"2025-11-15","value":225.3},{"date":"2025-11-17","value":221.4},{"date":"2025-11-18","value":221.2},{"date":"2025-11-20","value":214.2},{"date":"2025-11-22","value":215.8},{"date":"2025-11-24","value":218.7},{"date":"2025-11-26","value":219.5},{"date":"2025-11-27","value":223.1},{"date":"2025-11-29","value":224.3},
      {"date":"2025-12-02","value":225.6},{"date":"2025-12-04","value":229.1},{"date":"2025-12-06","value":229.5},{"date":"2025-12-07","value":228.2},{"date":"2025-12-09","value":229.9},{"date":"2025-12-10","value":228.2},{"date":"2025-12-12","value":223.3},{"date":"2025-12-14","value":223.1},{"date":"2025-12-15","value":216.2},{"date":"2025-12-17","value":216.0},{"date":"2025-12-19","value":218.9},{"date":"2025-12-21","value":219.3},{"date":"2025-12-23","value":220.6},{"date":"2025-12-25","value":220.1},{"date":"2025-12-28","value":219.5},{"date":"2025-12-29","value":220.6},{"date":"2025-12-31","value":218.7},
      {"date":"2026-01-02","value":221.4},{"date":"2026-01-04","value":221.1},{"date":"2026-01-06","value":218.9},{"date":"2026-01-08","value":221.4},{"date":"2026-01-11","value":222.0},{"date":"2026-01-14","value":224.1},{"date":"2026-01-17","value":223.9},{"date":"2026-01-19","value":223.9},{"date":"2026-01-20","value":220.1},{"date":"2026-01-22","value":226.4},{"date":"2026-01-24","value":227.4},{"date":"2026-01-26","value":227.8},{"date":"2026-01-28","value":232.2},{"date":"2026-01-31","value":231.1},
      {"date":"2026-02-01","value":230.5},{"date":"2026-02-03","value":227.8},{"date":"2026-02-04","value":230.5},{"date":"2026-02-05","value":225.5},{"date":"2026-02-06","value":233.8},{"date":"2026-02-08","value":234.7},{"date":"2026-02-09","value":235.7},{"date":"2026-02-11","value":237.3},{"date":"2026-02-12","value":231.1},{"date":"2026-02-14","value":234.2},{"date":"2026-02-16","value":234.2},{"date":"2026-02-17","value":231.6},{"date":"2026-02-19","value":236.3},{"date":"2026-02-21","value":238.2},{"date":"2026-02-23","value":234.4},{"date":"2026-02-24","value":236.3},{"date":"2026-02-26","value":237.6},{"date":"2026-02-28","value":238.4},
      {"date":"2026-03-02","value":243.8},{"date":"2026-03-03","value":241.5},{"date":"2026-03-05","value":247.9},{"date":"2026-03-07","value":246.8},{"date":"2026-03-09","value":246.7},{"date":"2026-03-10","value":243.5},{"date":"2026-03-11","value":249.0},{"date":"2026-03-14","value":249.0},{"date":"2026-03-16","value":249.8},{"date":"2026-03-18","value":253.3},{"date":"2026-03-19","value":256.2},{"date":"2026-03-22","value":255.0},{"date":"2026-03-24","value":260.0},{"date":"2026-03-26","value":260.9},{"date":"2026-03-28","value":260.8},{"date":"2026-03-30","value":257.5},
      {"date":"2026-04-01","value":253.3},{"date":"2026-04-03","value":257.0},{"date":"2026-04-05","value":257.0},{"date":"2026-04-06","value":260.0},{"date":"2026-04-08","value":255.0},{"date":"2026-04-09","value":252.7},{"date":"2026-04-11","value":254.1},{"date":"2026-04-13","value":254.1},{"date":"2026-04-14","value":256.0},{"date":"2026-04-15","value":253.3},{"date":"2026-04-16","value":260.4},{"date":"2026-04-17","value":255.1},{"date":"2026-04-19","value":255.1},{"date":"2026-04-20","value":258.3},{"date":"2026-04-22","value":265.3},{"date":"2026-04-24","value":266.7},{"date":"2026-04-26","value":267.2},{"date":"2026-04-28","value":268.4},{"date":"2026-04-29","value":274.9},
      {"date":"2026-05-01","value":275.5},{"date":"2026-05-03","value":275.7},{"date":"2026-05-05","value":281.7},{"date":"2026-05-07","value":272.6},{"date":"2026-05-09","value":276.5},{"date":"2026-05-10","value":276.5},{"date":"2026-05-12","value":280.8},{"date":"2026-05-13","value":280.0},{"date":"2026-05-15","value":284.2},{"date":"2026-05-17","value":284.4},{"date":"2026-05-19","value":286.1},{"date":"2026-05-21","value":283.3},{"date":"2026-05-23","value":285.8},{"date":"2026-05-25","value":285.8},{"date":"2026-05-27","value":281.5},{"date":"2026-05-29","value":286.9},{"date":"2026-05-31","value":287.3},
      {"date":"2026-06-01","value":296.4},{"date":"2026-06-03","value":297.1},{"date":"2026-06-04","value":292.3},{"date":"2026-06-05","value":280.5},{"date":"2026-06-06","value":280.5},{"date":"2026-06-08","value":285.5},{"date":"2026-06-09","value":279.2},{"date":"2026-06-11","value":281.5},{"date":"2026-06-13","value":283.6},{"date":"2026-06-15","value":282.8},{"date":"2026-06-17","value":275.9},{"date":"2026-06-19","value":276.7},{"date":"2026-06-21","value":279.9},{"date":"2026-06-22","value":280.3},{"date":"2026-06-23","value":271.6},{"date":"2026-06-25","value":274.5},{"date":"2026-06-26","value":271.4},{"date":"2026-06-28","value":271.4},{"date":"2026-06-30","value":278.4},
      {"date":"2026-07-02","value":271.4},{"date":"2026-07-04","value":270.9},{"date":"2026-07-06","value":272.6},{"date":"2026-07-07","value":278.6},{"date":"2026-07-10","value":279.0},{"date":"2026-07-12","value":278.9},{"date":"2026-07-14","value":283.0},{"date":"2026-07-15","value":279.0},{"date":"2026-07-17","value":280.8},{"date":"2026-07-20","value":280.7},{"date":"2026-07-21","value":289.6},{"date":"2026-07-23","value":284.8},{"date":"2026-07-25","value":284.0},{"date":"2026-07-26","value":279.9},{"date":"2026-07-28","value":273.6},{"date":"2026-07-29","value":275.3},{"date":"2026-07-31","value":286.1},
      {"date":"2026-08-02","value":286.7},{"date":"2026-08-04","value":290.8},{"date":"2026-08-05","value":284.4},{"date":"2026-08-07","value":286.5},{"date":"2026-08-09","value":286.7},{"date":"2026-08-10","value":293.9},{"date":"2026-08-13","value":299.8},{"date":"2026-08-14","value":300.4},{"date":"2026-08-16","value":303.1},{"date":"2026-08-18","value":300.7},{"date":"2026-08-19","value":301.8},{"date":"2026-08-21","value":303.1},{"date":"2026-08-23","value":303.1},{"date":"2026-08-24","value":296.0}
    ]
  },
  "mark": {"type": "line", "color": "#000080", "strokeWidth": 4.5, "strokeJoin": "round", "clip": true},
  "encoding": {
    "x": {
      "field": "date",
      "type": "temporal",
      "scale": {
        "type": "utc",
        "domain": [
          {"year": 2021, "month": 1, "date": 1, "utc": true},
          {"year": 2026, "month": 8, "date": 24, "utc": true}
        ],
        "nice": false
      },
      "axis": {
        "title": null,
        "format": "%-m/%-d/%Y",
        "tickCount": {"interval": "month", "step": 3},
        "labelAngle": -90,
        "labelFont": "Liberation Sans",
        "labelFontSize": 44,
        "labelColor": "#000000",
        "labelPadding": 18,
        "labelLimit": 400,
        "labelFlush": false,
        "labelOverlap": false,
        "labelBound": false,
        "tickSize": 13,
        "tickColor": "#000000",
        "tickWidth": 1.5,
        "domainColor": "#000000",
        "domainWidth": 2.5,
        "grid": false
      }
    },
    "y": {
      "field": "value",
      "type": "quantitative",
      "scale": {"domain": [0, 350], "nice": false, "zero": true},
      "axis": {
        "title": null,
        "values": [0, 50, 100, 150, 200, 250, 300, 350],
        "labelFont": "Liberation Sans",
        "labelFontSize": 44,
        "labelColor": "#000000",
        "labelPadding": 24,
        "labelLimit": 400,
        "labelFlush": false,
        "labelOverlap": false,
        "tickSize": 13,
        "tickColor": "#000000",
        "tickWidth": 1.5,
        "domainColor": "#000000",
        "domainWidth": 2.5,
        "grid": true,
        "gridColor": "#222222",
        "gridWidth": 1.5,
        "gridOpacity": {"condition": {"test": "datum.value === 350 || datum.value === 0", "value": 0}, "value": 1}
      }
    }
  }
}
